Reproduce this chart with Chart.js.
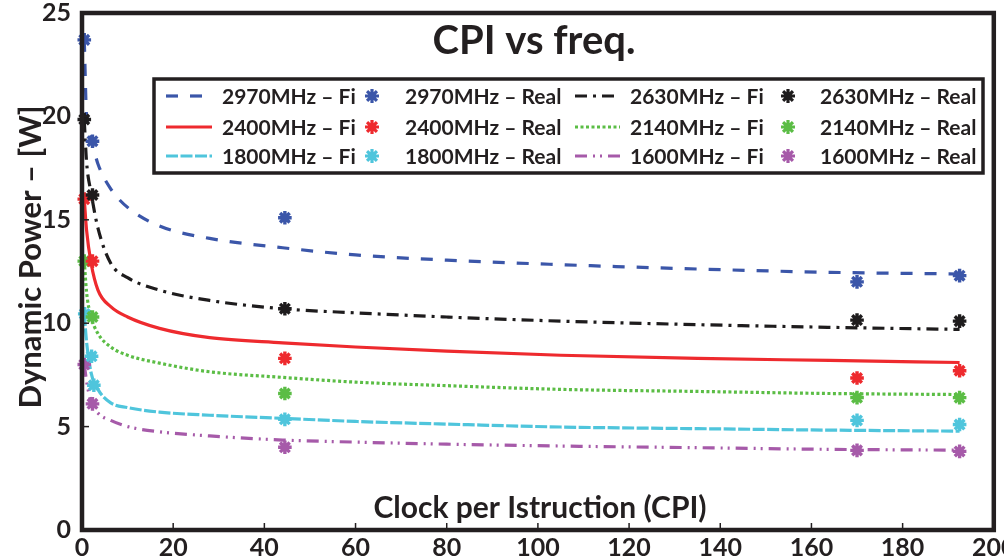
<!DOCTYPE html>
<html>
<head>
<meta charset="utf-8">
<script src="https://cdn.jsdelivr.net/npm/chart.js@4.4.0/dist/chart.umd.min.js"></script>
<style>
  html, body { margin: 0; padding: 0; background: #fff; }
</style>
</head>
<body>
<canvas id="cpi" width="1004" height="559"></canvas>
<script>
// fitted curves (Fi), sampled along CPI
const cpiFit = [0.5, 1, 2, 3.5, 6.3, 10, 17, 28, 44, 60, 80, 105, 135, 164, 192.5];
const fit2970 = [23.7, 20.0, 18.9, 17.7, 16.5, 15.6, 14.7, 14.1, 13.65, 13.3, 13.05, 12.83, 12.62, 12.46, 12.38];
const fit2630 = [19.8, 17.8, 16.3, 14.6, 12.9, 12.2, 11.6, 11.1, 10.7, 10.5, 10.3, 10.1, 9.93, 9.8, 9.7];
const fit2400 = [16.0, 14.5, 12.9, 11.6, 10.8, 10.3, 9.75, 9.3, 9.05, 8.85, 8.65, 8.45, 8.3, 8.2, 8.1];
const fit2140 = [13.0, 11.5, 10.3, 9.5, 8.85, 8.45, 8.07, 7.65, 7.38, 7.15, 6.98, 6.8, 6.7, 6.6, 6.55];
const fit1800 = [10.45, 9.1, 7.6, 6.8, 6.15, 5.92, 5.7, 5.55, 5.4, 5.25, 5.12, 4.98, 4.9, 4.83, 4.78];
const fit1600 = [8.0, 7.2, 6.2, 5.65, 5.3, 5.0, 4.75, 4.55, 4.35, 4.25, 4.15, 4.06, 3.98, 3.9, 3.86];

// measured points (Real)
const cpiReal = [0.5, 2.3, 44.5, 170, 192.5];
const cpiReal1800 = [0.6, 2.1, 2.6, 44.5, 170, 192.5];
const real2970 = [23.7, 18.8, 15.1, 12.0, 12.3];
const real2630 = [19.85, 16.2, 10.7, 10.15, 10.1];
const real2400 = [16.0, 13.0, 8.3, 7.35, 7.7];
const real2140 = [13.0, 10.3, 6.6, 6.4, 6.4];
const real1800 = [10.45, 8.4, 7.0, 5.35, 5.3, 5.1];
const real1600 = [8.0, 6.1, 4.0, 3.85, 3.8];

const xTicks = [0, 20, 40, 60, 80, 100, 120, 140, 160, 180, 200];
const yTicks = [0, 5, 10, 15, 20, 25];

const ink = '#231f20';
const font = 'Lato, "Open Sans", sans-serif';

const series = [
  { name: '2970MHz', fit: fit2970, real: real2970, cpi: cpiReal, color: '#3b56a9', dash: [12, 12] },
  { name: '2630MHz', fit: fit2630, real: real2630, cpi: cpiReal, color: '#1e1c1d', dash: [12, 6, 3, 6] },
  { name: '2400MHz', fit: fit2400, real: real2400, cpi: cpiReal, color: '#ee2a2e', dash: [] },
  { name: '2140MHz', fit: fit2140, real: real2140, cpi: cpiReal, color: '#5bbd45', dash: [3, 2.5] },
  { name: '1800MHz', fit: fit1800, real: real1800, cpi: cpiReal1800, color: '#4fc5dc', dash: [12, 2.5] },
  { name: '1600MHz', fit: fit1600, real: real1600, cpi: cpiReal, color: '#a65aa9', dash: [12, 6, 2, 5, 2, 6] }
];

const datasets = [];
series.forEach(s => {
  datasets.push({
    label: s.name + ' \u2013 Fi',
    data: cpiFit.map((c, i) => ({ x: c, y: s.fit[i] })),
    showLine: true,
    borderColor: s.color,
    borderWidth: 3.2,
    borderDash: s.dash,
    pointRadius: 0,
    cubicInterpolationMode: 'monotone',
    order: 2
  });
  datasets.push({
    label: s.name + ' \u2013 Real',
    data: s.cpi.map((c, i) => ({ x: c, y: s.real[i] })),
    showLine: false,
    borderColor: s.color,
    backgroundColor: s.color,
    pointStyle: 'star',
    pointRadius: 6.8,
    pointBorderWidth: 3.4,
    clip: false,
    order: 1
  });
});

function drawStar(ctx, x, y, r, color) {
  ctx.save();
  ctx.strokeStyle = color;
  ctx.lineWidth = 3.2;
  ctx.beginPath();
  for (let k = 0; k < 4; k++) {
    const a = k * Math.PI / 4;
    ctx.moveTo(x - r * Math.cos(a), y - r * Math.sin(a));
    ctx.lineTo(x + r * Math.cos(a), y + r * Math.sin(a));
  }
  ctx.stroke();
  ctx.restore();
}

// frame, inward ticks, titles and the boxed legend
const decor = {
  id: 'decor',
  afterDatasetsDraw(chart) {
    const { ctx, chartArea: a, scales: { x, y } } = chart;
    ctx.save();

    ctx.strokeStyle = ink;
    ctx.lineWidth = 1.5;
    xTicks.slice(1, -1).forEach(v => {
      const px = x.getPixelForValue(v);
      ctx.beginPath(); ctx.moveTo(px, a.bottom); ctx.lineTo(px, a.bottom - 7); ctx.stroke();
    });
    yTicks.slice(1, -1).forEach(v => {
      const py = y.getPixelForValue(v);
      ctx.beginPath(); ctx.moveTo(a.left, py); ctx.lineTo(a.left + 7, py); ctx.stroke();
    });

    ctx.lineWidth = 4.5;
    ctx.strokeRect(a.left, a.top, a.right - a.left, a.bottom - a.top);

    ctx.fillStyle = ink;
    ctx.textAlign = 'center';
    ctx.textBaseline = 'alphabetic';
    ctx.font = 'bold 40px ' + font;
    ctx.fillText('CPI vs freq.', 534, 54);
    ctx.font = 'bold 30px ' + font;
    ctx.fillText('Clock per Istruction (CPI)', 540, 518);

    ctx.save();
    ctx.translate(31, 257);
    ctx.rotate(-Math.PI / 2);
    ctx.textBaseline = 'middle';
    ctx.font = 'bold 31px ' + font;
    ctx.fillText('Dynamic Power \u2013 [W]', 0, 0);
    ctx.restore();

    // legend box
    const box = { l: 154, t: 79, r: 983, b: 173 };
    ctx.fillStyle = '#fff';
    ctx.fillRect(box.l, box.t, box.r - box.l, box.b - box.t);
    ctx.lineWidth = 3.5;
    ctx.strokeStyle = ink;
    ctx.strokeRect(box.l, box.t, box.r - box.l, box.b - box.t);

    const rows = [96, 127, 156];
    const cols = [
      { s0: 166, s1: 212, text: 222, star: 372, realText: 405 },
      { s0: 575, s1: 620, text: 630, star: 788, realText: 820 }
    ];
    ctx.font = 'bold 21px ' + font;
    ctx.textAlign = 'left';
    ctx.textBaseline = 'middle';
    series.forEach((s, i) => {
      const fitDs = chart.data.datasets[i * 2];
      const realDs = chart.data.datasets[i * 2 + 1];
      const c = cols[i % 2];
      const ry = rows[Math.floor(i / 2)];
      ctx.save();
      ctx.strokeStyle = fitDs.borderColor;
      ctx.lineWidth = 3.2;
      ctx.setLineDash(fitDs.borderDash);
      ctx.beginPath(); ctx.moveTo(c.s0, ry); ctx.lineTo(c.s1, ry); ctx.stroke();
      ctx.restore();
      ctx.fillStyle = ink;
      ctx.fillText(fitDs.label, c.text, ry + 1);
      drawStar(ctx, c.star, ry, 7, realDs.borderColor);
      ctx.fillStyle = ink;
      ctx.fillText(realDs.label, c.realText, ry + 1);
    });

    ctx.restore();
  }
};

function build() {
  new Chart(document.getElementById('cpi'), {
    type: 'scatter',
    data: { datasets },
    options: {
      responsive: false,
      animation: false,
      devicePixelRatio: 1,
      layout: { padding: { top: 13, right: 5, left: 0, bottom: 0 } },
      plugins: { legend: { display: false }, tooltip: { enabled: false } },
      scales: {
        x: {
          type: 'linear',
          min: 0, max: 200,
          afterBuildTicks: s => { s.ticks = xTicks.map(v => ({ value: v })); },
          afterFit: s => { s.height = 29; s.paddingLeft = 0; s.paddingRight = 0; },
          grid: { display: false, drawTicks: false },
          border: { display: false },
          ticks: { color: ink, padding: 3, font: { family: font, size: 25, weight: 'bold' } }
        },
        y: {
          type: 'linear',
          min: 0, max: 25,
          afterBuildTicks: s => { s.ticks = yTicks.map(v => ({ value: v })); },
          afterFit: s => { s.width = 82; s.paddingTop = 0; s.paddingBottom = 0; },
          grid: { display: false, drawTicks: false },
          border: { display: false },
          ticks: { color: ink, padding: 11, font: { family: font, size: 25, weight: 'bold' } }
        }
      }
    },
    plugins: [decor]
  });
}

if (document.fonts && document.fonts.load) {
  document.fonts.load('bold 20px Lato').then(build, build);
} else {
  build();
}
</script>
</body>
</html>
